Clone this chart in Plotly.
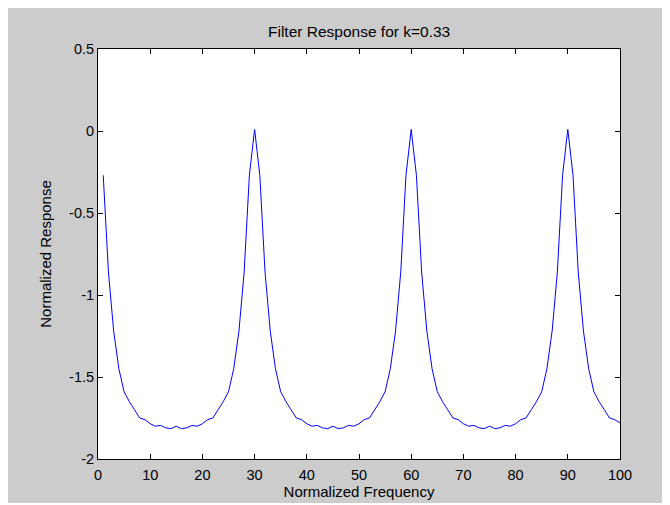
import plotly.graph_objects as go

# Normalized frequency samples (index 1..100)
freq = list(range(1, 101))

# Normalized response
response = [
    -0.27, -0.86, -1.22, -1.45, -1.59, -1.65, -1.70, -1.75, -1.76, -1.785,
    -1.80, -1.795, -1.81, -1.815, -1.80, -1.815, -1.81, -1.795, -1.80, -1.785,
    -1.76, -1.75, -1.70, -1.65, -1.59, -1.45, -1.22, -0.86, -0.27, 0.01,
    -0.27, -0.86, -1.22, -1.45, -1.59, -1.65, -1.70, -1.75, -1.76, -1.785,
    -1.80, -1.795, -1.81, -1.815, -1.80, -1.815, -1.81, -1.795, -1.80, -1.785,
    -1.76, -1.75, -1.70, -1.65, -1.59, -1.45, -1.22, -0.86, -0.27, 0.01,
    -0.27, -0.86, -1.22, -1.45, -1.59, -1.65, -1.70, -1.75, -1.76, -1.785,
    -1.80, -1.795, -1.81, -1.815, -1.80, -1.815, -1.81, -1.795, -1.80, -1.785,
    -1.76, -1.75, -1.70, -1.65, -1.59, -1.45, -1.22, -0.86, -0.27, 0.01,
    -0.27, -0.86, -1.22, -1.45, -1.59, -1.65, -1.70, -1.75, -1.76, -1.78,
]

x_ticks = [0, 10, 20, 30, 40, 50, 60, 70, 80, 90, 100]
y_ticks = [-2, -1.5, -1, -0.5, 0, 0.5]
y_tick_labels = ["-2", "-1.5", "-1", "-0.5", "0", "0.5"]

title_text = "Filter Response for k=0.33"
x_title = "Normalized Frequency"
y_title = "Normalized Response"

FONT = "Liberation Sans, Arial, sans-serif"
GRAY = "#cccccc"

fig = go.Figure()
fig.add_trace(go.Scatter(
    x=freq, y=response, mode="lines",
    line=dict(color="#0000ff", width=1),
    showlegend=False, hoverinfo="skip",
))

axis_common = dict(
    showgrid=False, zeroline=False,
    showline=True, linecolor="black", linewidth=1, mirror="ticks",
    ticks="inside", ticklen=5, tickcolor="black", tickwidth=1,
    tickfont=dict(family=FONT, size=14.5, color="black"),
)

fig.update_layout(
    width=660, height=495,
    paper_bgcolor=GRAY, plot_bgcolor="white",
    margin=dict(l=90, r=48, t=41, b=44, autoexpand=False),
    font=dict(family=FONT, color="black"),
    xaxis=dict(range=[0, 100], tickvals=x_ticks, ticklabelstandoff=3, **axis_common,
               title=dict(text=x_title, font=dict(family=FONT, size=15), standoff=4)),
    yaxis=dict(range=[-2, 0.5], tickvals=y_ticks, ticktext=y_tick_labels, **axis_common,
               title=dict(text=y_title, font=dict(family=FONT, size=15), standoff=13)),
    annotations=[dict(
        text=title_text, xref="paper", yref="paper", x=0.5, y=1, yshift=7,
        xanchor="center", yanchor="bottom", showarrow=False,
        font=dict(family=FONT, size=15.5, color="black"),
    )],
)

fig.write_html("out.html")
